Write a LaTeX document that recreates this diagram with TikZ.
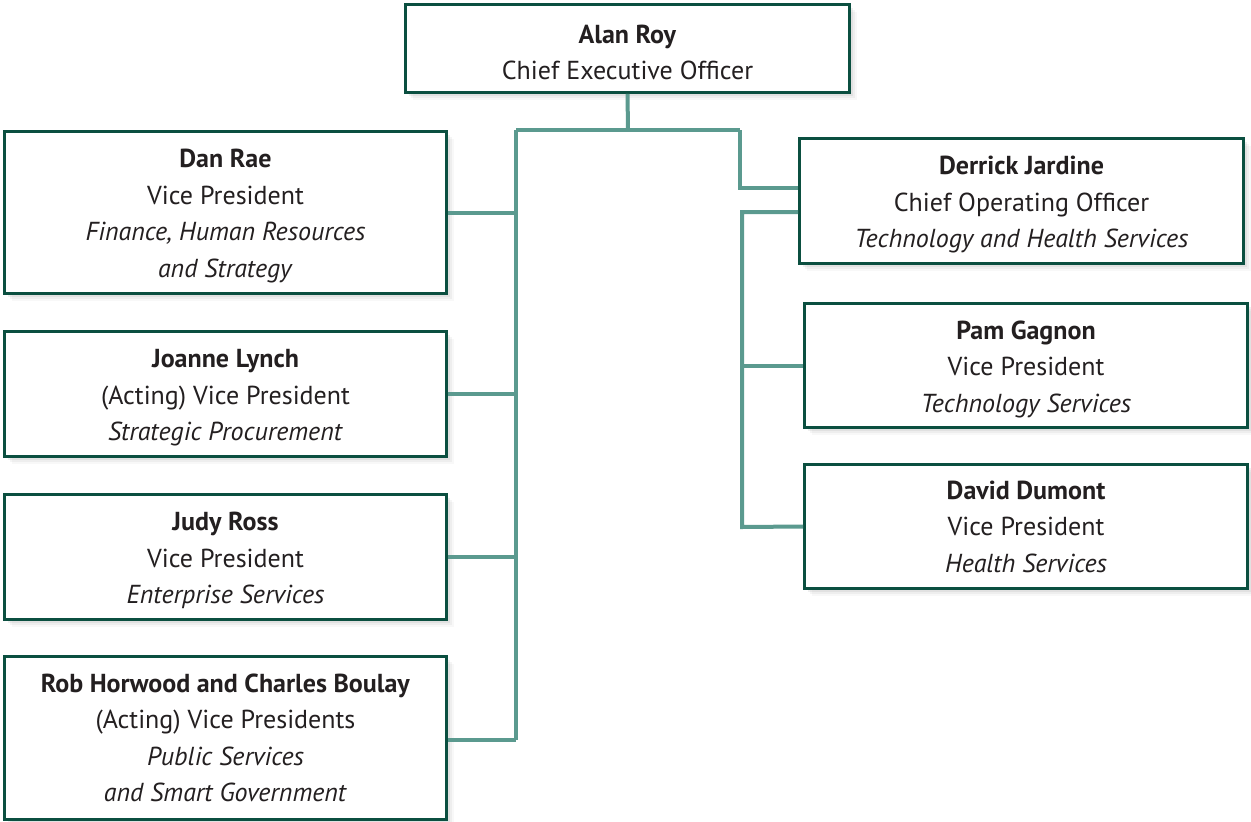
\documentclass[tikz,border=0pt]{standalone}
\usepackage{fontspec}
\setmainfont{PT Sans}
\usetikzlibrary{shadows}
\definecolor{boxline}{HTML}{0B4F40}
\definecolor{conncol}{HTML}{5B9A8F}
\definecolor{txt}{HTML}{231F20}
\newcommand{\tstrut}{\rule{0pt}{26pt}}
\tikzset{
  person/.style={draw=boxline, line width=2.6pt, fill=white, text=txt,
    align=center, inner sep=0pt,
    font=\fontsize{26}{36.5}\selectfont,
    drop shadow={opacity=0.06, shadow xshift=7pt, shadow yshift=-7pt},
    drop shadow={opacity=0.08, shadow xshift=5pt, shadow yshift=-5pt},
    drop shadow={opacity=0.12, shadow xshift=3pt, shadow yshift=-3pt}},
  conn/.style={draw=conncol, line width=4pt, line join=miter}
}
\begin{document}
\begin{tikzpicture}[x=1pt,y=-1pt]
\useasboundingbox (0,0) rectangle (1251,822);
\coordinate (topbar) at (628,130);
\coordinate (ltl) at (516,130);
\coordinate (ltr) at (740,130);
\coordinate (lbot) at (516,740);
\coordinate (rt) at (742,527);
\node[person, minimum width=444pt, minimum height=88pt] (ceo) at (627.5,48.5)
  {\tstrut\textbf{Alan Roy}\\Chief Executive Officer};
\node[person, minimum width=442pt, minimum height=162pt] (dan) at (225.5,212.5)
  {\tstrut\textbf{Dan Rae}\\Vice President\\\textit{Finance, Human Resources}\\\textit{and Strategy}};
\node[person, minimum width=442pt, minimum height=125pt] (joanne) at (225.5,394)
  {\tstrut\textbf{Joanne Lynch}\\(Acting) Vice President\\\textit{Strategic Procurement}};
\node[person, minimum width=442pt, minimum height=125pt] (judy) at (225.5,557)
  {\tstrut\textbf{Judy Ross}\\Vice President\\\textit{Enterprise Services}};
\node[person, minimum width=442pt, minimum height=163pt] (rob) at (225.5,738)
  {\textbf{Rob Horwood and Charles Boulay}\\(Acting) Vice Presidents\\\textit{Public Services}\\\textit{and Smart Government}};
\node[person, minimum width=444pt, minimum height=125pt] (derrick) at (1021.5,201)
  {\tstrut\textbf{Derrick Jardine}\\Chief Operating Officer\\\textit{Technology and Health Services}};
\node[person, minimum width=443pt, minimum height=124pt] (pam) at (1026,365.5)
  {\tstrut\textbf{Pam Gagnon}\\Vice President\\\textit{Technology Services}};
\node[person, minimum width=443pt, minimum height=124pt] (david) at (1026,526.5)
  {\textbf{David Dumont}\\Vice President\\\textit{Health Services}};
\draw[conn] (ceo.south) -- (topbar);
\draw[conn] (ltl) -- (ltr);
\draw[conn] (ltl) -- (lbot);
\draw[conn] (ltr) |- ([yshift=13pt]derrick.west);
\draw[conn] (dan.east) -- (dan.east -| ltl);
\draw[conn] (joanne.east) -- (joanne.east -| ltl);
\draw[conn] (judy.east) -- (judy.east -| ltl);
\draw[conn] (rob.east |- lbot) -- (lbot);
\draw[conn] ([yshift=-11pt]derrick.west) -| (rt) -- (david.west);
\draw[conn] (pam.west) -- (pam.west -| rt);
\end{tikzpicture}
\end{document}
